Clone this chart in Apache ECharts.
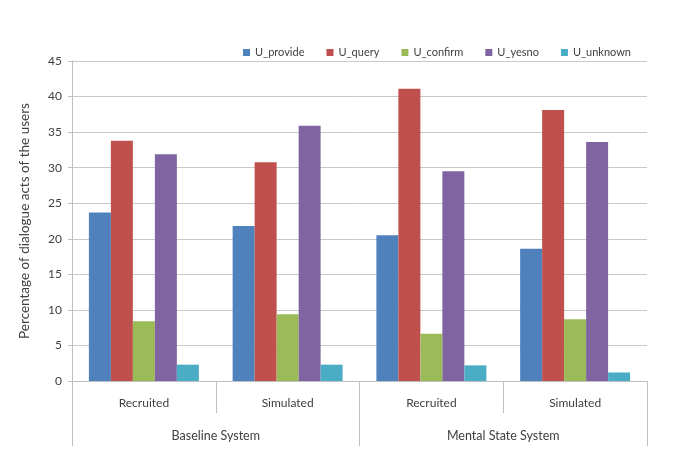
<!DOCTYPE html>
<html>
<head>
<meta charset="utf-8">
<script src="https://cdn.jsdelivr.net/npm/echarts@6/dist/echarts.min.js"></script>
<style>html,body{margin:0;padding:0;background:#fff;}#c{width:685px;height:457px;}</style>
</head>
<body>
<div id="c"></div>
<script>
var subCategories = ['Recruited', 'Simulated', 'Recruited', 'Simulated'];
var groupCategories = ['Baseline System', 'Mental State System'];
var seriesNames = ['U_provide', 'U_query', 'U_confirm', 'U_yesno', 'U_unknown'];
var U_provide = [23.7, 21.8, 20.5, 18.6];
var U_query = [33.8, 30.75, 41.1, 38.1];
var U_confirm = [8.4, 9.4, 6.65, 8.7];
var U_yesno = [31.9, 35.9, 29.5, 33.6];
var U_unknown = [2.3, 2.3, 2.2, 1.2];
var yTicks = {min: 0, max: 45, interval: 5};

var colors = ['#4F81BD', '#C0504D', '#9BBB59', '#8064A2', '#4BACC6'];
var values = [U_provide, U_query, U_confirm, U_yesno, U_unknown];
var font = 'Lato, "Liberation Sans", sans-serif';
var chart = echarts.init(document.getElementById('c'), null, {renderer: 'canvas'});
chart.setOption({
  animation: false,
  color: colors,
  textStyle: {fontFamily: font, color: '#404040'},
  legend: {
    data: seriesNames,
    right: 49,
    top: 42,
    itemWidth: 7,
    itemHeight: 7,
    itemGap: 22,
    icon: 'rect',
    textStyle: {fontFamily: font, fontSize: 11, color: '#404040'}
  },
  grid: {left: 72, right: 38, top: 61, bottom: 76, containLabel: false},
  xAxis: [{
    type: 'category',
    data: subCategories,
    position: 'bottom',
    axisLine: {show: true, lineStyle: {color: '#bfbfbf'}},
    axisTick: {show: true, length: 32, interval: 0, lineStyle: {color: '#bfbfbf'}},
    axisLabel: {margin: 16, fontSize: 12, color: '#404040', fontFamily: font, interval: 0}
  }, {
    type: 'category',
    data: groupCategories,
    position: 'bottom',
    axisLine: {show: false},
    axisTick: {show: true, length: 65, interval: 0, lineStyle: {color: '#bfbfbf'}},
    axisLabel: {margin: 48, fontSize: 12.5, color: '#404040', fontFamily: font, interval: 0}
  }],
  yAxis: {
    type: 'value',
    min: yTicks.min,
    max: yTicks.max,
    interval: yTicks.interval,
    name: 'Percentage of dialogue acts of the users',
    nameLocation: 'middle',
    nameRotate: 90,
    nameGap: 40,
    nameTextStyle: {fontSize: 13.5, color: '#404040', fontFamily: font},
    axisLine: {show: true, lineStyle: {color: '#bfbfbf'}},
    axisTick: {show: true, length: 4, lineStyle: {color: '#bfbfbf'}},
    axisLabel: {margin: 10, fontSize: 12, color: '#404040', fontFamily: font},
    splitLine: {show: true, lineStyle: {color: '#c8c8c8'}}
  },
  series: seriesNames.map(function (n, i) {
    return {
      name: n,
      type: 'bar',
      xAxisIndex: 0,
      data: values[i],
      barGap: '0%',
      barCategoryGap: '23.5%',
      itemStyle: {color: colors[i]}
    };
  })
});
</script>
</body>
</html>
